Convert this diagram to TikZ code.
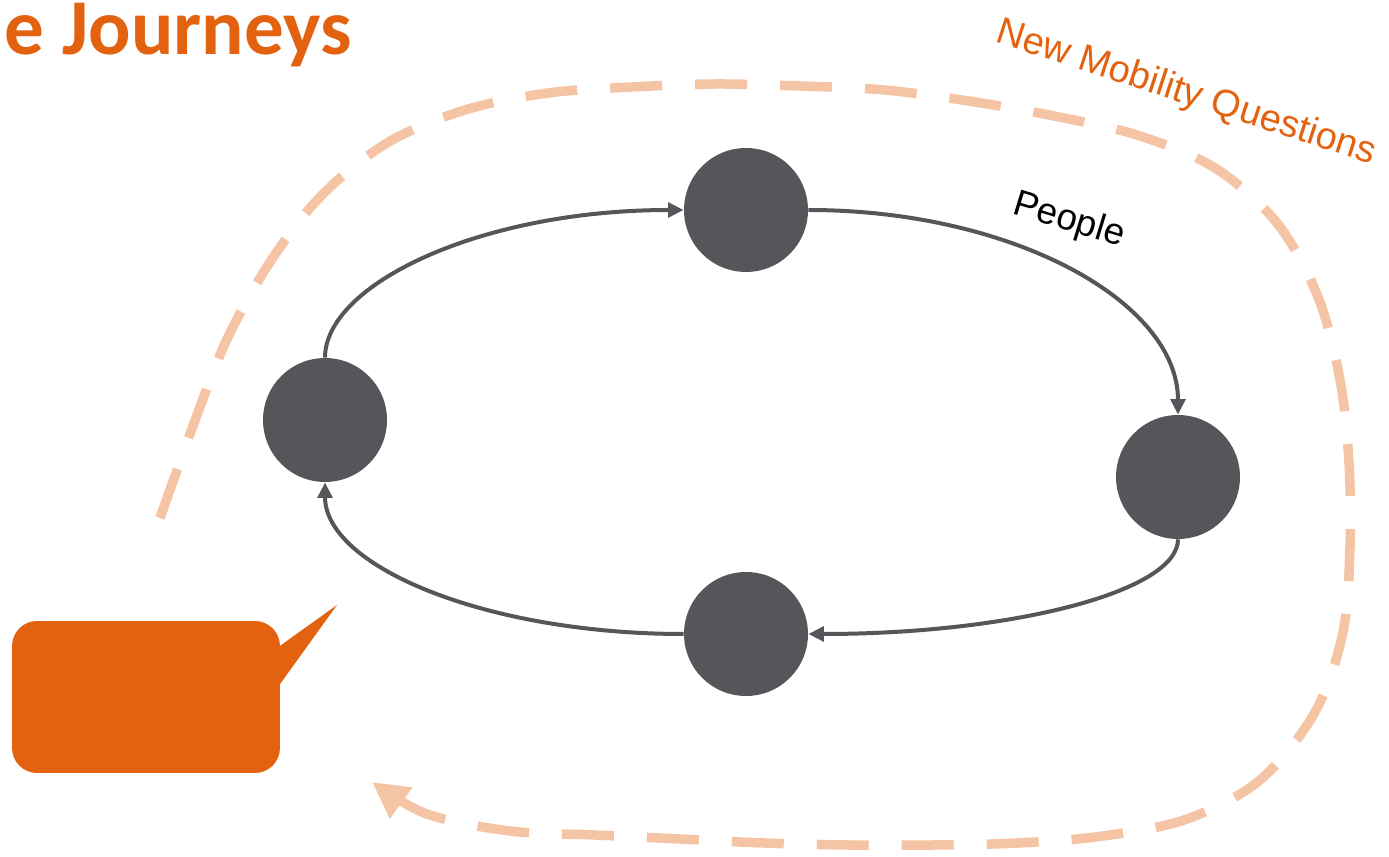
\documentclass[tikz,border=0pt]{standalone}
\usepackage{fontspec}
\setmainfont{Liberation Sans}
\newfontfamily\headfont{Carlito}
\usetikzlibrary{arrows.meta}

\definecolor{accent}{HTML}{E36210}
\definecolor{accentlight}{HTML}{F5C4A5}
\definecolor{hubgrey}{HTML}{55565A}

\begin{document}
\begin{tikzpicture}[
    x=0.02cm, y=-0.02cm,
    hub/.style={
        circle,
        fill=hubgrey,
        inner sep=0pt,
        minimum size=2.48cm
    },
    flow/.style={
        -{Triangle[length=0.31cm, width=0.29cm]},
        line width=0.08cm,
        draw=hubgrey
    },
    loopline/.style={
        -{Triangle[length=0.72cm, width=0.72cm]},
        line width=0.19cm,
        draw=accentlight,
        dash pattern=on 1.04cm off 0.66cm
    },
    callout/.style={
        rectangle,
        rounded corners=0.5cm,
        fill=accent,
        inner sep=0pt,
        minimum width=5.36cm,
        minimum height=3.04cm
    },
    headline/.style={
        font=\headfont\bfseries\fontsize{45}{52}\selectfont,
        text=accent,
        inner sep=0pt
    },
    looplabel/.style={
        font=\fontsize{21.6}{26}\selectfont,
        text=accent,
        inner sep=0pt
    },
    flowlabel/.style={
        font=\fontsize{21}{25}\selectfont,
        text=black,
        inner sep=0pt
    }
]

\clip (0,0) rectangle (1389,857);

\node[headline, anchor=base west] (title) at (-15,55) {le Journeys};

% Outer dashed loop
\draw[loopline] plot[smooth, tension=0.55] coordinates {
    (160,518) (197,415) (228,337) (270,262) (321,196) (387,143)
    (465,110) (548,93) (632,87) (715,84) (800,86) (885,90)
    (975,102) (1054,116) (1137,135) (1215,168) (1277,223) (1318,297)
    (1340,380) (1349,463) (1350,547) (1343,632) (1315,712) (1260,780)
    (1187,819) (1103,836) (1018,843) (933,845) (849,845) (764,843)
    (680,839) (595,835) (510,831) (427,814) (372,782)};

\node[looplabel, rotate=-18, anchor=base] (loopTitle) at (1183,103) {New Mobility Questions};

% Journey stops
\node[hub] (pTop) at (746,210) {};
\node[hub] (pRight) at (1178,477) {};
\node[hub] (pBottom) at (746,634) {};
\node[hub] (pLeft) at (325,420) {};

\draw[flow] (pLeft.north) .. controls +(0,-73) and +(-204,0) .. (pTop.west);
\draw[flow] (pTop.east) .. controls +(204,0) and +(0,-113) .. (pRight.north);
\draw[flow] (pRight.south) .. controls +(0,52) and +(204,0) .. (pBottom.east);
\draw[flow] (pBottom.west) .. controls +(-198,0) and +(0,84) .. (pLeft.south);

\node[flowlabel, rotate=-17, anchor=base] (peopleLabel) at (1066,230) {People};

% Speech bubble
\node[callout] (note) at (146,697) {};
\coordinate (noteTip) at (337,605);
\fill[accent] (270,653) -- (noteTip) -- (270,698) -- cycle;

\end{tikzpicture}
\end{document}
